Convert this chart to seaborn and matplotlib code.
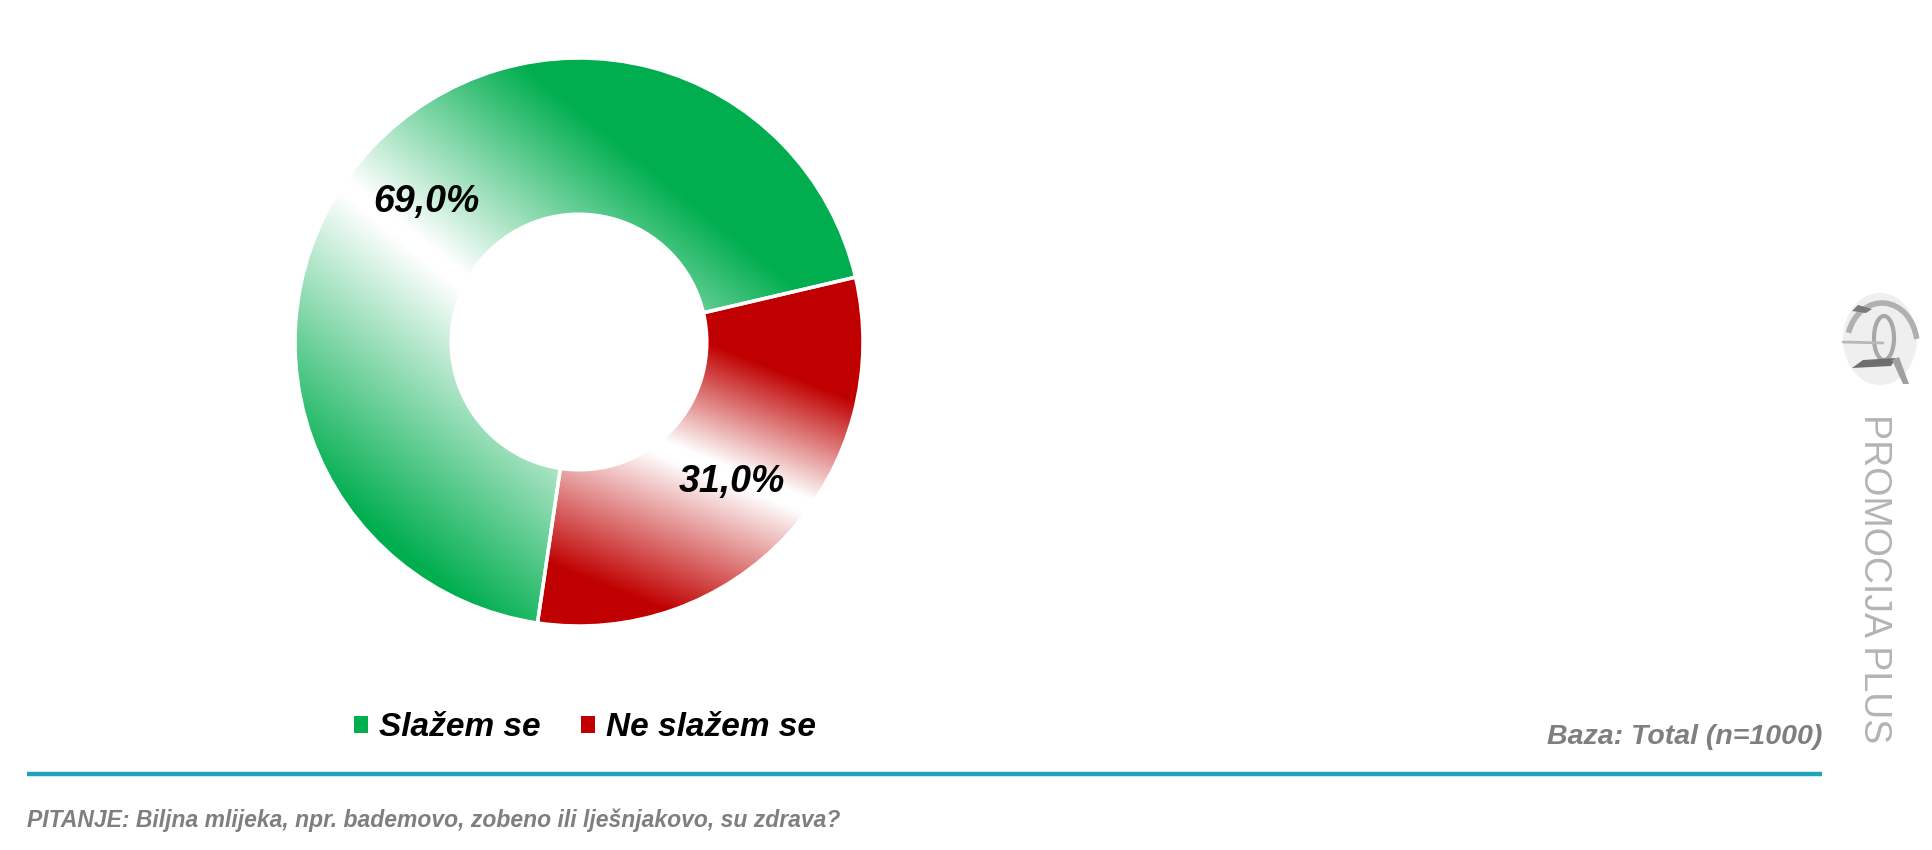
import numpy as np
import seaborn as sns
import matplotlib.pyplot as plt
from matplotlib.patches import Patch, Ellipse, Arc, Polygon

# ----- data
labels = ["Slažem se", "Ne slažem se"]
values = [69.0, 31.0]
colors = ["#00AE4F", "#C00000"]
base_text = "Baza: Total (n=1000)"
question = "PITANJE: Biljna mlijeka, npr. bademovo, zobeno ili lješnjakovo, su zdrava?"
brand = "PROMOCIJA PLUS"

sns.set_style("white")
plt.rcParams['font.family'] = ['Liberation Sans', 'DejaVu Sans']
plt.rcParams['text.color'] = 'black'

W, H = 1933, 850
fig = plt.figure(figsize=(W / 100, H / 100), dpi=100)

# background axes in pixel coords for decorations
ax_bg = fig.add_axes([0, 0, 1, 1])
ax_bg.set_xlim(0, W)
ax_bg.set_ylim(H, 0)
ax_bg.axis("off")

# ----- donut
cx, cy, R = 579, 342, 284
L = 1.06
ax = fig.add_axes([(cx - L * R) / W, (H - cy - L * R) / H, 2 * L * R / W, 2 * L * R / H])

fmt = lambda p: f"{p:.1f}%".replace(".", ",")
wedges, texts, autotexts = ax.pie(
    values, colors=colors, startangle=13.2, counterclock=True, radius=1,
    autopct=fmt, pctdistance=0.73,
    wedgeprops=dict(width=0.55, edgecolor="white", linewidth=2.5),
    textprops=dict(fontsize=27, fontweight="bold", fontstyle="italic", color="black"))
ax.set_xlim(-L, L)
ax.set_ylim(-L, L)
ax.axis("off")

# gradient bands (point on band, band normal, width above / below)
bands = [((-0.849, 0.567), (0.630, 0.777), 0.70, 0.85),
         ((0.268, -0.366), (0.370, 0.929), 0.38, 0.50)]

xs = np.linspace(-L, L, 900)
X, Y = np.meshgrid(xs, xs)
for wedge, col, (p0, n, w_up, w_dn) in zip(wedges, colors, bands):
    d = (X - p0[0]) * n[0] + (Y - p0[1]) * n[1]
    t = np.where(d > 0, (d - 0.025) / w_up, (-d - 0.025) / w_dn)
    t = np.clip(t, 0, 1)
    cmap = sns.blend_palette(["white", col], as_cmap=True)
    im = ax.imshow(cmap(t), extent=(-L, L, -L, L), origin="lower",
                   interpolation="bilinear", zorder=0.5)
    im.set_clip_path(wedge)
    wedge.set_facecolor("none")
    wedge.set_zorder(1)
for t in autotexts:
    t.set_zorder(3)

# ----- legend
handles = [Patch(facecolor=c, edgecolor="none") for c in colors]
leg = fig.legend(handles, labels, loc="center", bbox_to_anchor=(585 / W, 1 - 728 / H),
                 ncol=2, frameon=False, handlelength=0.42, handleheight=0.42,
                 handletextpad=0.35, columnspacing=1.2, labelcolor="black",
                 prop=dict(size=24, weight="bold", style="italic"))

# ----- footer
ax_bg.plot([27, 1822], [774, 774], color="#1FA3B5", linewidth=3.2, solid_capstyle="butt")
ax_bg.text(1822, 737, base_text, ha="right", va="center", fontsize=20.5,
           fontweight="bold", fontstyle="italic", color="#7F7F7F")
ax_bg.text(27, 820, question, ha="left", va="center", fontsize=16.5,
           fontweight="bold", fontstyle="italic", color="#7F7F7F")

# ----- brand
ax_bg.text(1874, 579, brand, rotation=270, ha="center", va="center",
           fontsize=27, color="#B4B4B4")
ax_bg.add_patch(Ellipse((1880, 339), 74, 92, facecolor="#EFEFEF", edgecolor="none"))
ax_bg.add_patch(Arc((1882, 345), 70, 84, theta1=200, theta2=350, color="#B0B0B0", linewidth=4))
ax_bg.add_patch(Ellipse((1884, 338), 20, 44, facecolor="none", edgecolor="#A8A8A8", linewidth=3))
ax_bg.plot([1843, 1883], [342, 343], color="#B8B8B8", linewidth=2)
ax_bg.add_patch(Polygon([(1852, 368), (1863, 360), (1896, 358), (1891, 366)],
                        facecolor="#6E6E6E", edgecolor="none"))
ax_bg.add_patch(Polygon([(1892, 360), (1899, 357), (1909, 384), (1903, 384)],
                        facecolor="#A0A0A0", edgecolor="none"))
ax_bg.add_patch(Polygon([(1852, 311), (1858, 305), (1872, 309), (1866, 313)],
                        facecolor="#7A7A7A", edgecolor="none"))

fig.savefig("out.png", dpi=100)
